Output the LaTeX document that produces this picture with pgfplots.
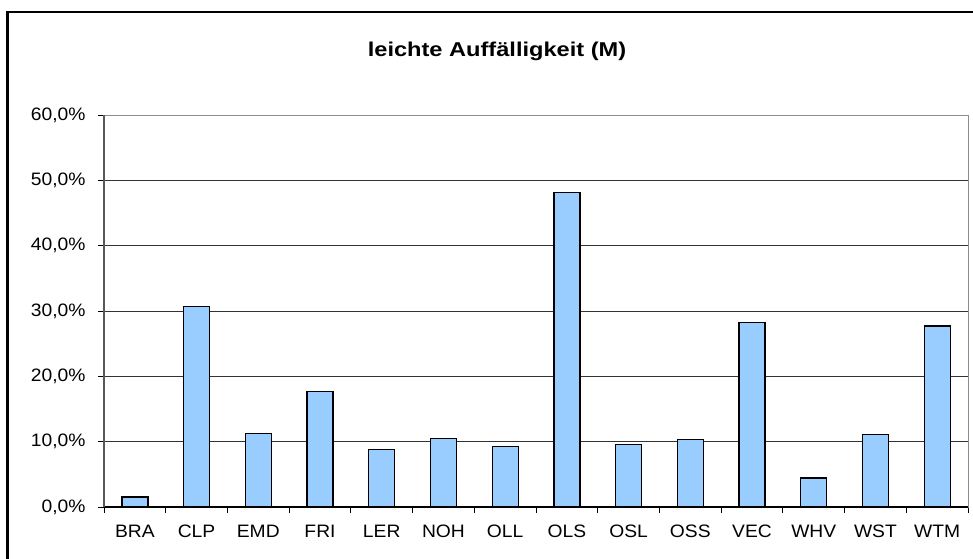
\documentclass[border=0pt]{standalone}
\usepackage{fontspec}
\setmainfont{Liberation Sans}
\newfontfamily\tickfont[FakeStretch=1.07]{Liberation Sans}
\newfontfamily\titlefont[FakeStretch=1.18]{Liberation Sans}
\usepackage{pgfplots}
\pgfplotsset{compat=1.18}
\definecolor{barblue}{HTML}{99CCFF}
\begin{document}
\begin{tikzpicture}[x=1pt,y=1pt]
\useasboundingbox (0,0) rectangle (973,558);
\fill[white] (0,0) rectangle (973,558);
\draw[line width=2.2pt] (7.5,-20) -- (7.5,546) -- (990,546);
\node[font=\titlefont\bfseries\fontsize{20}{24}\selectfont] at (497,507) {leichte Auffälligkeit (M)};
\begin{axis}[at={(104pt,51pt)}, anchor=south west, scale only axis,
  width=864pt, height=392pt,
  xmin=-0.5, xmax=13.5, ymin=0, ymax=60,
  axis line style={draw=black!45, line width=1pt},
  xtick={-0.5,0.5,...,13.5}, xticklabels={},
  extra x ticks={0,1,...,13},
  extra x tick labels={BRA,CLP,EMD,FRI,LER,NOH,OLL,OLS,OSL,OSS,VEC,WHV,WST,WTM},
  extra x tick style={major tick length=0pt, grid=none},
  ytick={0,10,...,60},
  yticklabels={{0,0\%},{10,0\%},{20,0\%},{30,0\%},{40,0\%},{50,0\%},{60,0\%}},
  ymajorgrids, grid style={draw=black!80, line width=0.9pt},
  tick align=outside, major tick length=6pt,
  tick style={draw=black, line width=0.9pt},
  xtick pos=bottom, ytick pos=left,
  tick label style={font=\tickfont\fontsize{18}{21}\selectfont},
  xticklabel style={yshift=-14pt, text height=12.9pt, text depth=0pt},
  yticklabel style={xshift=-9pt},
  clip=false,
]
\addplot[ybar, bar width=26pt, fill=barblue, draw=black, line width=1.3pt]
 coordinates {(0,1.55) (1,30.7) (2,11.3) (3,17.7) (4,8.8) (5,10.5) (6,9.3) (7,48.1) (8,9.6) (9,10.35) (10,28.2) (11,4.45) (12,11.05) (13,27.7)};
\draw[black, line width=1.2pt] (axis cs:-0.5,0) -- (axis cs:13.5,0);
\draw[black!65, line width=1.2pt] (axis cs:-0.5,0) -- (axis cs:-0.5,60);
\end{axis}
\end{tikzpicture}
\end{document}
